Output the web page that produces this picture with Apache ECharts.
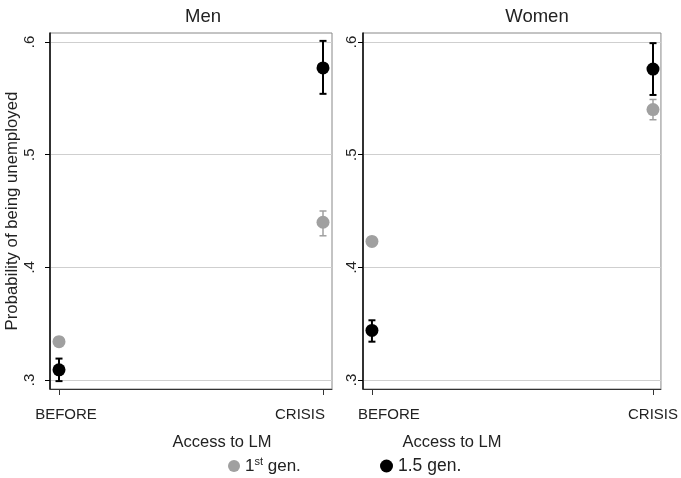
<!DOCTYPE html>
<html><head><meta charset="utf-8">
<script src="https://cdn.jsdelivr.net/npm/echarts@6/dist/echarts.min.js"></script>
<style>html,body{margin:0;padding:0;background:#fff}#c{width:681px;height:478px}</style>
</head><body><div id="c"></div>
<script>
const categories = ['BEFORE', 'CRISIS'];
const panelTitles = ['Men', 'Women'];
const yTicks = [0.3, 0.4, 0.5, 0.6];
const yTickLabels = ['.3', '.4', '.5', '.6'];
const seriesNames = ['1st gen.', '1.5 gen.'];
const xTitle = 'Access to LM';
const yTitle = 'Probability of being unemployed';

const men1st = [0.334, 0.440];
const men1stLo = [0.330, 0.428];
const men1stHi = [0.338, 0.450];
const men15 = [0.309, 0.577];
const men15Lo = [0.299, 0.554];
const men15Hi = [0.319, 0.601];

const women1st = [0.423, 0.540];
const women1stLo = [0.419, 0.531];
const women1stHi = [0.427, 0.549];
const women15 = [0.344, 0.576];
const women15Lo = [0.334, 0.553];
const women15Hi = [0.353, 0.599];

const FONT = '"Liberation Sans", Arial, Helvetica, sans-serif';
const GRAY = '#a0a0a0';
const BLACK = '#000000';

function pts(vals) { return vals.map((v, i) => [i, v]); }
function ci(lo, hi) { return lo.map((l, i) => [i, l, hi[i]]); }

function errRender(color, w) {
  return function (params, api) {
    const x = api.value(0);
    const a = api.coord([x, api.value(1)]);
    const b = api.coord([x, api.value(2)]);
    const cw = 3.5;
    const st = { stroke: color, lineWidth: w };
    return { type: 'group', children: [
      { type: 'line', shape: { x1: a[0], y1: a[1], x2: b[0], y2: b[1] }, style: st },
      { type: 'line', shape: { x1: a[0] - cw, y1: a[1], x2: a[0] + cw, y2: a[1] }, style: st },
      { type: 'line', shape: { x1: b[0] - cw, y1: b[1], x2: b[0] + cw, y2: b[1] }, style: st }
    ]};
  };
}

function xAxis(gi, min, max, pads, namePad) {
  return {
    type: 'value', gridIndex: gi, min: min, max: max,
    axisLine: { show: true, onZero: false, lineStyle: { color: '#333', width: 1 } },
    axisTick: { show: true, length: 6, customValues: [0, 1], lineStyle: { color: '#333' } },
    splitLine: { show: false },
    axisLabel: {
      customValues: [0, 1], margin: 18, fontSize: 15, color: '#222', fontFamily: FONT,
      formatter: v => (Math.round(v) === 0 ? '{a|' + categories[0] + '}' : '{b|' + categories[1] + '}'),
      rich: {
        a: { fontSize: 15, color: '#222', fontFamily: FONT, padding: pads[0] },
        b: { fontSize: 15, color: '#222', fontFamily: FONT, padding: pads[1] }
      }
    },
    name: xTitle, nameLocation: 'middle', nameGap: 45,
    nameTextStyle: { fontSize: 16.5, color: '#222', fontFamily: FONT, padding: namePad }
  };
}

function yAxis(gi, margin, withName) {
  const o = {
    type: 'value', gridIndex: gi, min: 0.292, max: 0.608,
    axisLine: { show: true, onZero: false, lineStyle: { color: '#000', width: 1.5 } },
    axisTick: { show: true, length: 5, customValues: yTicks, lineStyle: { color: '#000' } },
    splitLine: { show: true, lineStyle: { color: '#cfcfcf', width: 1 } },
    axisLabel: {
      customValues: yTicks, rotate: 90, margin: margin, fontSize: 15, color: '#222', fontFamily: FONT,
      formatter: v => { const i = yTicks.findIndex(t => Math.abs(t - v) < 1e-6); return i >= 0 ? yTickLabels[i] : ''; }
    }
  };
  if (withName) {
    o.name = yTitle; o.nameLocation = 'middle'; o.nameRotate = 90; o.nameGap = 27;
    o.nameTextStyle = { fontSize: 16.8, color: '#222', fontFamily: FONT };
  }
  return o;
}

const chart = echarts.init(document.getElementById('c'), null, { renderer: 'canvas' });
chart.setOption({
  animation: false,
  backgroundColor: '#ffffff',
  title: [
    { text: panelTitles[0], left: 198, top: 2, textAlign: 'center', textStyle: { fontSize: 18.5, fontWeight: 'normal', color: '#222', fontFamily: FONT } },
    { text: panelTitles[1], left: 532, top: 2, textAlign: 'center', textStyle: { fontSize: 18.5, fontWeight: 'normal', color: '#222', fontFamily: FONT } }
  ],
  grid: [
    { left: 50, top: 33, width: 282, height: 356, show: true, borderColor: '#888', borderWidth: 1, containLabel: false },
    { left: 363, top: 33, width: 300, height: 356, show: true, borderColor: '#888', borderWidth: 1, containLabel: false }
  ],
  xAxis: [
    xAxis(0, -9 / 264, 1 + 9 / 264, [[0, 0, 0, 14], [0, 46, 0, 0]], [0, 0, 0, 62]),
    xAxis(1, -9 / 283, 1 + 8 / 283, [[0, 0, 0, 34], [0, 0, 0, 0]], [0, 120, 0, 0])
  ],
  yAxis: [yAxis(0, 13, true), yAxis(1, 4, false)],
  legend: [
    { data: [seriesNames[0]], left: 223, top: 451, icon: 'circle', itemWidth: 12, itemHeight: 12, itemGap: 4,
      textStyle: { fontSize: 17, color: '#222', fontFamily: FONT, lineHeight: 20,
        rich: { sup: { fontSize: 11, color: '#222', fontFamily: FONT, verticalAlign: 'top', lineHeight: 11 } } },
      formatter: n => n.replace('1st', '1{sup|st}') },
    { data: [seriesNames[1]], left: 375, top: 451, icon: 'circle', itemWidth: 13, itemHeight: 13, itemGap: 4,
      textStyle: { fontSize: 17.5, color: '#222', fontFamily: FONT, lineHeight: 20 } }
  ],
  series: [
    { type: 'custom', name: 'ci1m', xAxisIndex: 0, yAxisIndex: 0, renderItem: errRender(GRAY, 1.5), data: ci(men1stLo, men1stHi), encode: { x: 0, y: [1, 2] }, z: 2 },
    { type: 'custom', name: 'ci15m', xAxisIndex: 0, yAxisIndex: 0, renderItem: errRender(BLACK, 2), data: ci(men15Lo, men15Hi), encode: { x: 0, y: [1, 2] }, z: 2 },
    { type: 'custom', name: 'ci1w', xAxisIndex: 1, yAxisIndex: 1, renderItem: errRender(GRAY, 1.5), data: ci(women1stLo, women1stHi), encode: { x: 0, y: [1, 2] }, z: 2 },
    { type: 'custom', name: 'ci15w', xAxisIndex: 1, yAxisIndex: 1, renderItem: errRender(BLACK, 2), data: ci(women15Lo, women15Hi), encode: { x: 0, y: [1, 2] }, z: 2 },
    { type: 'scatter', name: seriesNames[0], xAxisIndex: 0, yAxisIndex: 0, data: pts(men1st), symbolSize: 13, itemStyle: { color: GRAY, opacity: 1 }, z: 3 },
    { type: 'scatter', name: seriesNames[1], xAxisIndex: 0, yAxisIndex: 0, data: pts(men15), symbolSize: 13, itemStyle: { color: BLACK, opacity: 1 }, z: 3 },
    { type: 'scatter', name: seriesNames[0], xAxisIndex: 1, yAxisIndex: 1, data: pts(women1st), symbolSize: 13, itemStyle: { color: GRAY, opacity: 1 }, z: 3 },
    { type: 'scatter', name: seriesNames[1], xAxisIndex: 1, yAxisIndex: 1, data: pts(women15), symbolSize: 13, itemStyle: { color: BLACK, opacity: 1 }, z: 3 }
  ]
});
</script>
</body></html>
